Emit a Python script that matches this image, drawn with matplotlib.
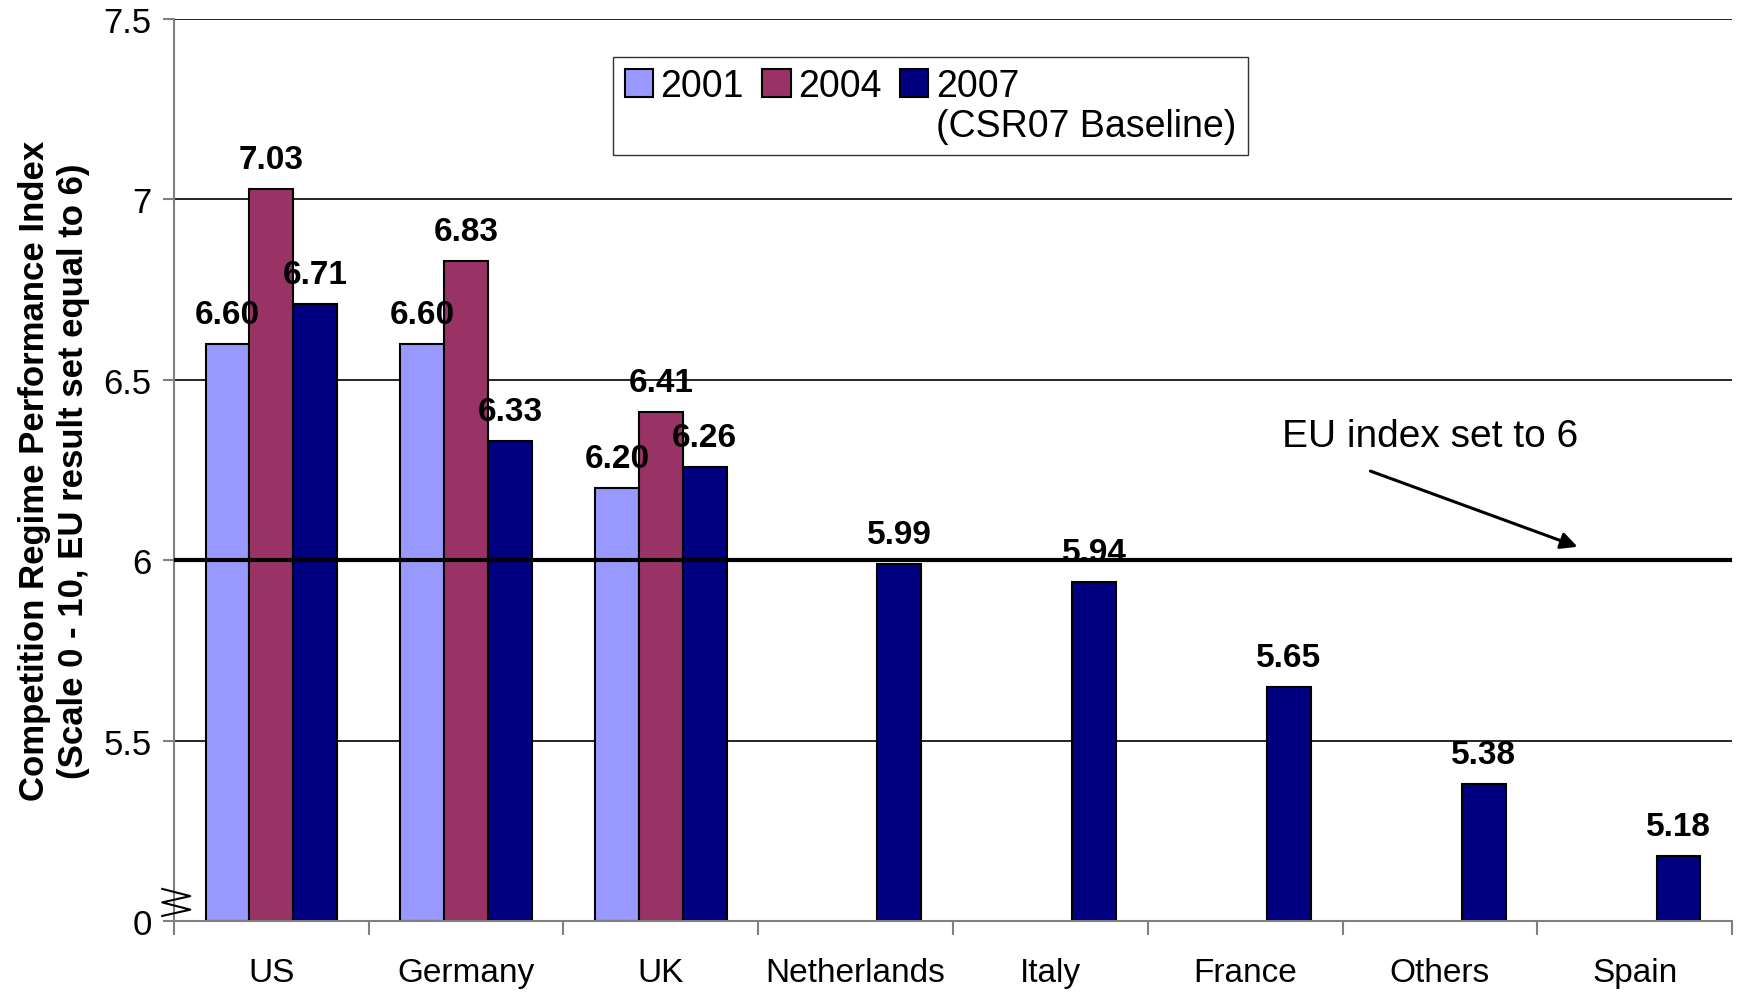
import matplotlib.pyplot as plt
import numpy as np

plt.rcParams['font.family'] = ['Liberation Sans', 'DejaVu Sans']

countries = ['US', 'Germany', 'UK', 'Netherlands', 'Italy', 'France', 'Others', 'Spain']
v2001 = [6.60, 6.60, 6.20, np.nan, np.nan, np.nan, np.nan, np.nan]
v2004 = [7.03, 6.83, 6.41, np.nan, np.nan, np.nan, np.nan, np.nan]
v2007 = [6.71, 6.33, 6.26, 5.99, 5.94, 5.65, 5.38, 5.18]
ytick_vals = [5.0, 5.5, 6.0, 6.5, 7.0, 7.5]
ytick_labels = ['0', '5.5', '6', '6.5', '7', '7.5']

c2001 = '#9999FF'
c2004 = '#993366'
c2007 = '#000080'
base = 5.0
w = 0.225

fig = plt.figure(figsize=(17.39, 9.95), dpi=100)
ax = fig.add_axes([0.100, 0.073, 0.896, 0.907])

x = np.arange(len(countries))
series = [(v2001, -w, c2001, '2001'), (v2004, 0, c2004, '2004'), (v2007, w, c2007, '2007')]
handles = []
for vals, off, col, lab in series:
    vals = np.array(vals)
    h = ax.bar(x + off, vals - base, w, bottom=base, color=col, edgecolor='black',
               linewidth=1.5, zorder=2, label=lab)
    handles.append(h)
    for xi, v in zip(x + off, vals):
        if np.isnan(v):
            continue
        ax.annotate(f'{v:.2f}', (xi, v), xytext=(0, 10), textcoords='offset points',
                    ha='center', va='bottom', fontsize=24, fontweight='bold', zorder=5)

ax.set_xlim(-0.5, len(countries) - 0.5)
ax.set_ylim(5.0, 7.5)

# grid lines and EU reference line
for g in [5.5, 6.5, 7.0, 7.5]:
    ax.axhline(g, color='black', lw=1.2, zorder=1)
ax.axhline(6.0, color='black', lw=3, zorder=4)

ax.set_yticks(ytick_vals)
ax.set_yticklabels(ytick_labels, fontsize=25)
ax.tick_params(axis='y', length=8, color='#808080', width=1.5, pad=8)

ax.set_xticks(x)
ax.set_xticklabels(countries, fontsize=24)
ax.tick_params(axis='x', length=0, pad=26)
ax.set_xticks(np.arange(-0.5, len(countries)), minor=True)
ax.tick_params(axis='x', which='minor', length=10, color='#808080', width=1.5)

for s in ['top', 'right']:
    ax.spines[s].set_visible(False)
for s in ['left', 'bottom']:
    ax.spines[s].set_color('#808080')
    ax.spines[s].set_linewidth(1.5)

# axis break symbol
zx = [-0.0075, 0.0105, -0.0075, 0.0105, -0.0075]
zy = [0.036, 0.028, 0.021, 0.013, 0.006]
ax.plot(zx, zy, transform=ax.transAxes, color='black', lw=1.5, clip_on=False, zorder=6)

ax.set_ylabel('Competition Regime Performance Index\n(Scale 0 - 10, EU result set equal to 6)',
              fontsize=25, fontweight='bold', labelpad=10)

ax.annotate('', xy=(6.72, 6.035), xytext=(5.63, 6.25),
            arrowprops=dict(arrowstyle='-|>', color='black', lw=2.2, mutation_scale=25))
ax.text(5.95, 6.345, 'EU index set to 6', ha='center', va='center', fontsize=28)

blank = plt.Rectangle((0, 0), 1, 1, fc='none', ec='none')
leg = ax.legend([handles[0], blank, handles[1], blank, handles[2], blank],
                ['2001', '', '2004', '', '2007', '(CSR07 Baseline)'],
                ncol=3, loc='upper left', bbox_to_anchor=(0.282, 0.958),
                borderaxespad=0,
                fontsize=27, frameon=True, fancybox=False, edgecolor='black',
                handlelength=0.75, handleheight=0.75, handletextpad=0.2,
                columnspacing=0.5, labelspacing=0.1, borderpad=0.3)
leg.get_frame().set_linewidth(1.0)

fig.savefig('out.png', dpi=100)
